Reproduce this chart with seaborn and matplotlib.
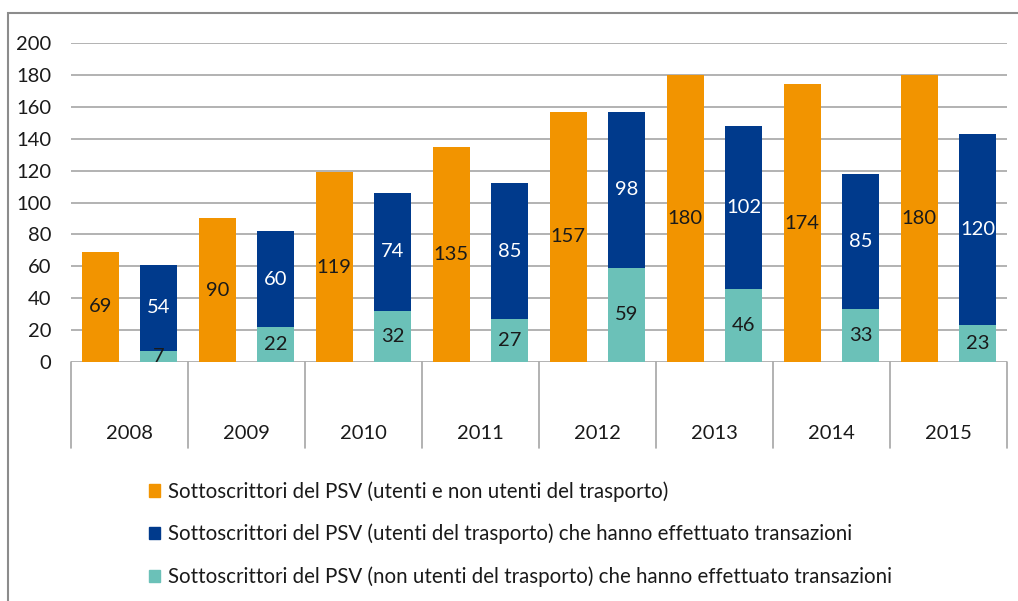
import matplotlib
matplotlib.use("Agg")
import matplotlib.pyplot as plt
import matplotlib.patches as mpatches
import seaborn as sns
import pandas as pd
import numpy as np

years = ["2008", "2009", "2010", "2011", "2012", "2013", "2014", "2015"]
totale = [69, 90, 119, 135, 157, 180, 174, 180]
utenti_trasporto = [54, 60, 74, 85, 98, 102, 85, 120]
non_utenti = [7, 22, 32, 27, 59, 46, 33, 23]
legend_labels = [
    "Sottoscrittori del PSV (utenti e non utenti del trasporto)",
    "Sottoscrittori del PSV (utenti del trasporto) che hanno effettuato transazioni",
    "Sottoscrittori del PSV (non utenti del trasporto) che hanno effettuato transazioni",
]
yticks = [0, 20, 40, 60, 80, 100, 120, 140, 160, 180, 200]

ORANGE = "#F29400"
NAVY = "#003A8C"
TEAL = "#6BC1B8"
GRID = "#A6A6A6"
TXT = "#1A1A1A"

sns.set_theme(style="white")
plt.rcParams["font.family"] = ["Lato", "DejaVu Sans"]

stack_top = [a + b for a, b in zip(utenti_trasporto, non_utenti)]
df_main = pd.DataFrame({
    "anno": years * 2,
    "valore": totale + stack_top,
    "serie": ["A"] * len(years) + ["B"] * len(years),
})
df_teal = pd.DataFrame({"anno": years, "valore": non_utenti, "serie": ["B"] * len(years)})

fig = plt.figure(figsize=(10.18, 6.01), dpi=100)
ax = fig.add_axes([71 / 1018, 1 - 362 / 601, (1007 - 71) / 1018, (362 - 43) / 601])

for y in yticks:
    ax.axhline(y, color=GRID, lw=1.2, zorder=0)

sns.barplot(data=df_main, x="anno", y="valore", hue="serie", hue_order=["A", "B"],
            palette={"A": ORANGE, "B": NAVY}, width=1.0, gap=0.36, dodge=True,
            errorbar=None, legend=False, ax=ax, saturation=1, zorder=2, linewidth=0)
sns.barplot(data=df_teal, x="anno", y="valore", hue="serie", hue_order=["A", "B"],
            palette={"A": ORANGE, "B": TEAL}, width=1.0, gap=0.36, dodge=True,
            errorbar=None, legend=False, ax=ax, saturation=1, zorder=3, linewidth=0)

ax.set_xlim(-0.5, len(years) - 0.5)
ax.set_ylim(0, 200)
ax.set_yticks(yticks)
ax.set_yticklabels([str(t) for t in yticks], fontsize=14.5, color=TXT)
ax.tick_params(axis="y", length=0, pad=14)
ax.set_xticks([])
ax.set_xlabel("")
ax.set_ylabel("")
for s in ax.spines.values():
    s.set_visible(False)

fs = 14.5
for i in range(len(years)):
    ax.text(i - 0.25, totale[i] / 2, str(totale[i]), ha="center", va="center",
            fontsize=fs, color=TXT, zorder=5)
    ax.text(i + 0.25, non_utenti[i] + utenti_trasporto[i] / 2, str(utenti_trasporto[i]),
            ha="center", va="center", fontsize=fs, color="white", zorder=5)
    ax.text(i + 0.25, non_utenti[i] / 2, str(non_utenti[i]), ha="center", va="center",
            fontsize=fs, color=TXT, zorder=5)

# category table area
ax2 = fig.add_axes([71 / 1018, 1 - 448 / 601, (1007 - 71) / 1018, (448 - 362) / 601])
ax2.set_xlim(-0.5, len(years) - 0.5)
ax2.set_ylim(0, 1)
ax2.axis("off")
for b in np.arange(-0.5, len(years), 1.0):
    ax2.plot([b, b], [0, 1], color=GRID, lw=1.2, clip_on=False)
for i, yr in enumerate(years):
    ax2.text(i, 0.17, yr, ha="center", va="center", fontsize=14.5, color=TXT)

# figure border
fig.patches.append(mpatches.Rectangle((8 / 1018, -0.1), 1.2, 1 - 13 / 601 + 0.1,
                                      transform=fig.transFigure, fill=False,
                                      edgecolor="#8C8C8C", lw=1.5, zorder=0))

handles = [mpatches.Patch(color=c) for c in (ORANGE, NAVY, TEAL)]
fig.legend(handles, legend_labels, loc="upper left",
           bbox_to_anchor=(149 / 1018, 1 - 481 / 601), frameon=False,
           borderpad=0, borderaxespad=0,
           fontsize=14.8, handlelength=0.55, handleheight=0.55, handletextpad=0.35,
           labelspacing=1.08, labelcolor=TXT)

fig.savefig("out.png", dpi=100)
